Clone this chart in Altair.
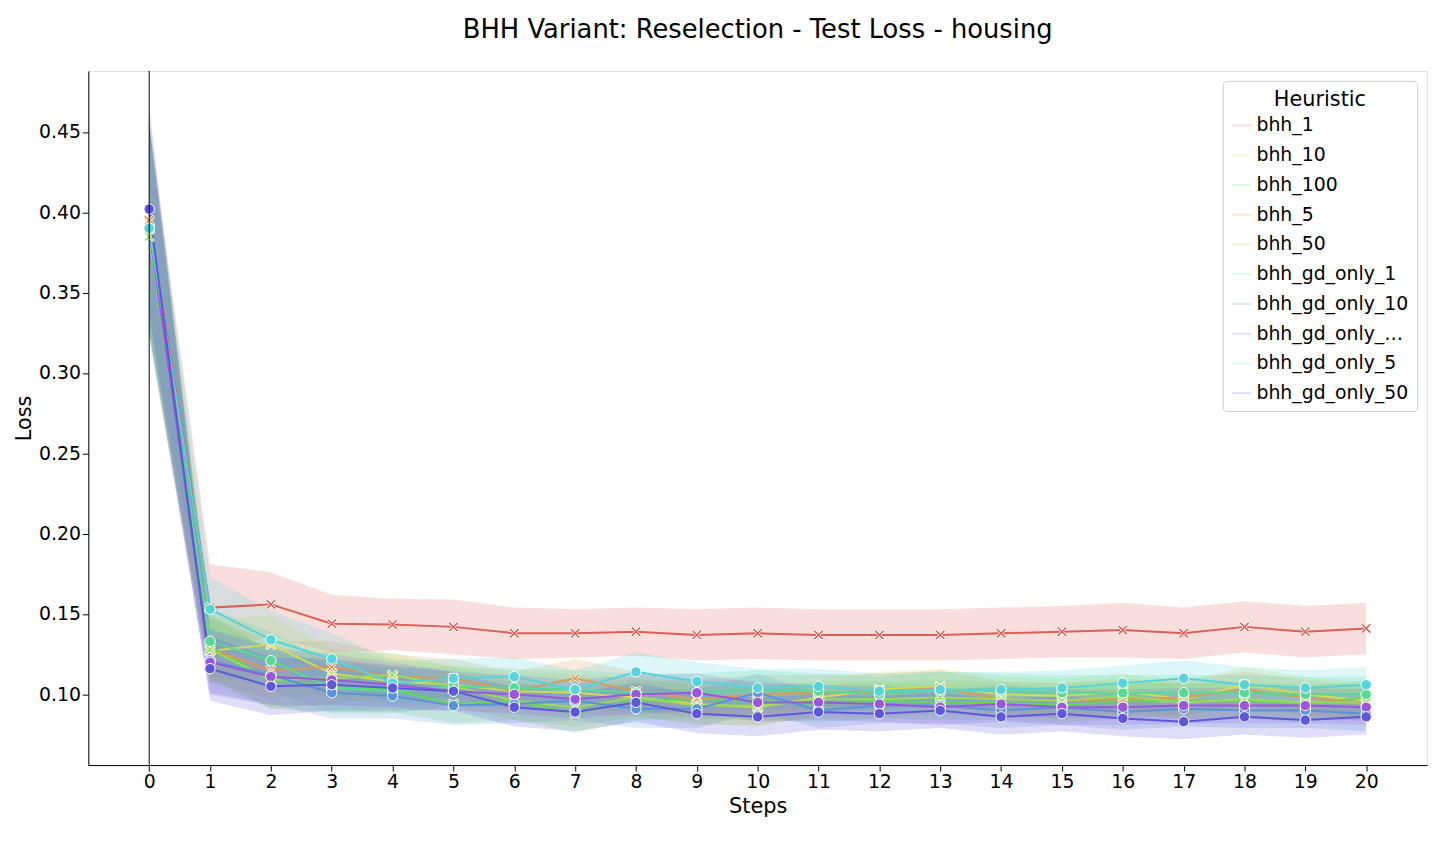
import altair as alt
import pandas as pd

steps = list(range(21))
series = ["bhh_1","bhh_10","bhh_100","bhh_5","bhh_50","bhh_gd_only_1","bhh_gd_only_10","bhh_gd_only_100","bhh_gd_only_5","bhh_gd_only_50"]
colors = ["#db5f57","#d3db57","#5fdb57","#db9a57","#9adb57","#57db94","#5794db","#9a57db","#57d3db","#5f57db"]
values = {
 "bhh_1":[0.394,0.154,0.156,0.144,0.1435,0.142,0.138,0.138,0.139,0.137,0.138,0.137,0.137,0.137,0.138,0.139,0.140,0.138,0.142,0.139,0.141],
 "bhh_10":[0.390,0.127,0.131,0.113,0.108,0.106,0.102,0.101,0.098,0.094,0.092,0.098,0.103,0.105,0.100,0.099,0.102,0.097,0.106,0.100,0.096],
 "bhh_100":[0.390,0.130,0.109,0.105,0.103,0.094,0.096,0.088,0.096,0.097,0.096,0.094,0.096,0.095,0.095,0.093,0.096,0.096,0.096,0.094,0.098],
 "bhh_5":[0.395,0.128,0.115,0.117,0.111,0.110,0.102,0.110,0.102,0.097,0.100,0.101,0.102,0.104,0.097,0.096,0.097,0.098,0.103,0.098,0.094],
 "bhh_50":[0.385,0.128,0.109,0.110,0.112,0.105,0.096,0.092,0.098,0.093,0.093,0.097,0.097,0.098,0.097,0.096,0.099,0.095,0.097,0.095,0.095],
 "bhh_gd_only_1":[0.390,0.133,0.121,0.104,0.102,0.105,0.104,0.103,0.101,0.101,0.103,0.102,0.100,0.103,0.102,0.101,0.101,0.101,0.101,0.100,0.100],
 "bhh_gd_only_10":[0.390,0.121,0.112,0.101,0.099,0.093,0.094,0.096,0.091,0.091,0.101,0.090,0.093,0.093,0.090,0.092,0.089,0.091,0.090,0.090,0.088],
 "bhh_gd_only_100":[0.390,0.120,0.111,0.109,0.106,0.102,0.100,0.097,0.100,0.101,0.095,0.095,0.094,0.092,0.094,0.092,0.092,0.093,0.093,0.093,0.092],
 "bhh_gd_only_5":[0.390,0.153,0.134,0.122,0.107,0.110,0.111,0.103,0.114,0.108,0.104,0.105,0.102,0.103,0.103,0.104,0.107,0.110,0.106,0.104,0.106],
 "bhh_gd_only_50":[0.402,0.116,0.105,0.106,0.104,0.102,0.092,0.089,0.095,0.088,0.086,0.089,0.088,0.090,0.086,0.088,0.085,0.083,0.086,0.084,0.086],
}
half_red = [0.06,0.027,0.020,0.018,0.016,0.017,0.016,0.015,0.015,0.016,0.016,0.016,0.016,0.016,0.016,0.016,0.017,0.016,0.016,0.016,0.016]
half_other = [0.065,0.020,0.018,0.016,0.014,0.012,0.012,0.012,0.012,0.012,0.012,0.011,0.011,0.011,0.011,0.011,0.011,0.011,0.011,0.011,0.011]

rows = []
for s in series:
    hw = half_red if s == "bhh_1" else half_other
    for i, st in enumerate(steps):
        v = values[s][i]
        rows.append({"Steps": st, "Loss": v, "lo": v - hw[i], "hi": v + hw[i], "Heuristic": s,
                     "kind": "gd" if "gd" in s else "bhh"})
df = pd.DataFrame(rows)

xs = alt.Scale(domain=[-1, 21], nice=False, zero=False)
ys = alt.Scale(domain=[0.056, 0.488], nice=False, zero=False)
cs = alt.Scale(domain=series, range=colors)
leg = alt.Legend(title="Heuristic", orient="top-right", symbolType="stroke",
                 symbolStrokeWidth=2, labelFontSize=19, titleFontSize=21,
                 titleFontWeight="normal", strokeColor="#cccccc", padding=8,
                 cornerRadius=4, fillColor="white", rowPadding=9, symbolSize=400,
                 labelColor="black", titleColor="black", titleAnchor="middle", offset=10)
col = alt.Color("Heuristic:N", scale=cs, legend=leg)
axcommon = dict(grid=False, labelFontSize=19, titleFontSize=21, tickSize=6, titleFontWeight="normal",
                labelColor="black", titleColor="black", domainColor="black", tickColor="black")

base = alt.Chart(df)
band = base.mark_area(opacity=0.2).encode(
    x=alt.X("Steps:Q", scale=xs), y=alt.Y("lo:Q", scale=ys), y2="hi:Q",
    color=col, detail="Heuristic:N")
line = base.mark_line(strokeWidth=2).encode(
    x=alt.X("Steps:Q", scale=xs, axis=alt.Axis(values=steps, format="d", title="Steps", **axcommon)),
    y=alt.Y("Loss:Q", scale=ys,
            axis=alt.Axis(values=[0.10,0.15,0.20,0.25,0.30,0.35,0.40,0.45], format=".2f", title="Loss", **axcommon)),
    color=col)
pts = base.mark_point(filled=True, size=110, stroke="white", strokeWidth=1, opacity=1).encode(
    x=alt.X("Steps:Q", scale=xs), y=alt.Y("Loss:Q", scale=ys),
    color=col,
    shape=alt.Shape("kind:N", scale=alt.Scale(domain=["bhh","gd"], range=["M-1,-0.7L-0.7,-1L0,-0.3L0.7,-1L1,-0.7L0.3,0L1,0.7L0.7,1L0,0.3L-0.7,1L-1,0.7L-0.3,0Z","circle"]), legend=None))
vline = alt.Chart(pd.DataFrame({"x": [0]})).mark_rule(color="black", strokeWidth=1).encode(x=alt.X("x:Q", scale=xs))

chart = alt.layer(band, line, pts, vline).properties(
    width=1350, height=700,
    title=alt.TitleParams("BHH Variant: Reselection - Test Loss - housing", fontSize=26, fontWeight="normal", offset=28, color="black")
).configure_view(stroke="black", strokeWidth=1).configure(font="DejaVu Sans")

chart.save("out.html", embed_options={"renderer": "svg", "actions": False})
